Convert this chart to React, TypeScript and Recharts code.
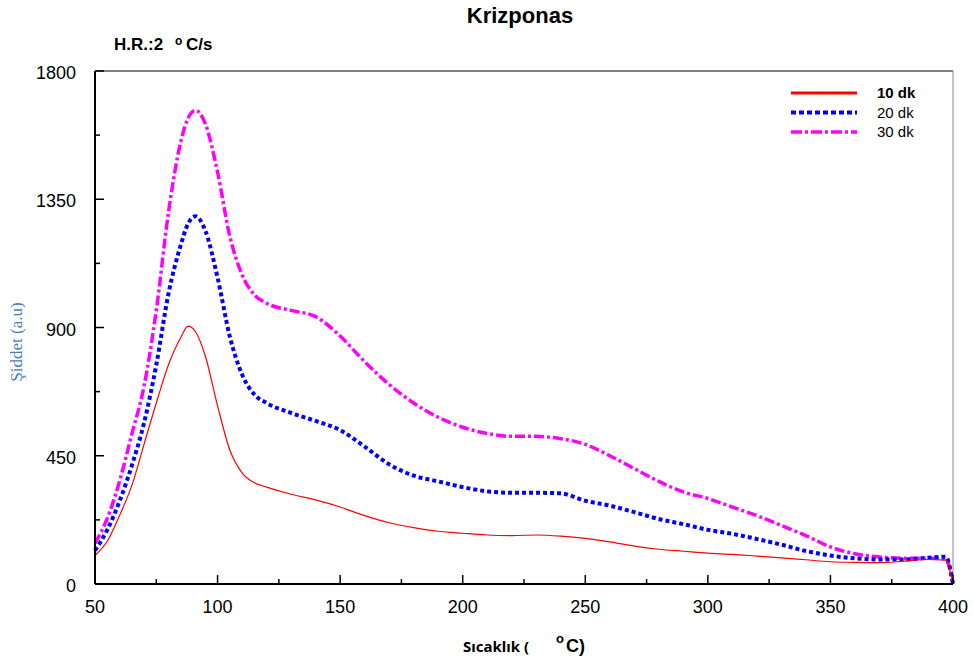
import React from "react";
import { LineChart, Line, XAxis, YAxis, ReferenceLine } from "recharts";

// temperature (°C)
const temps = [
  50, 55, 60, 65, 70, 75, 80, 85, 88, 91, 95, 100, 105, 110, 115, 120, 130, 140, 150, 160,
  170, 180, 190, 200, 210, 220, 230, 240, 250, 260, 270, 280, 290, 300, 310, 320, 330, 340,
  350, 360, 370, 380, 390, 397, 400,
];

const dk10 = [
  100, 150, 240, 345, 490, 635, 770, 865, 905, 885, 800, 625, 470, 390, 355, 340, 315, 295,
  270, 240, 215, 198, 185, 178, 172, 170, 172, 168, 160, 148, 133, 122, 115, 108, 104, 98,
  92, 85, 78, 76, 75, 80, 86, 84, 0,
];

const dk20 = [
  118, 190, 290, 415, 565, 769, 1020, 1190, 1265, 1290, 1240, 1075, 868, 735, 665, 635, 600,
  572, 540, 482, 420, 380, 360, 340, 325, 320, 320, 318, 292, 275, 252, 228, 210, 190, 176,
  158, 138, 116, 100, 90, 86, 86, 92, 96, 0,
];

const dk30 = [
  143, 230, 360, 525, 694, 960, 1306, 1552, 1635, 1662, 1615, 1445, 1220, 1085, 1015, 985,
  960, 938, 870, 780, 700, 635, 585, 550, 528, 518, 518, 510, 490, 450, 405, 360, 323, 300,
  270, 240, 205, 170, 130, 106, 95, 90, 90, 88, 0,
];

const xTicks = [50, 75, 100, 125, 150, 175, 200, 225, 250, 275, 300, 325, 350, 375, 400];
const yTicks = [0, 225, 450, 675, 900, 1125, 1350, 1575, 1800];

const data = temps.map((t, i) => ({ t, d10: dk10[i], d20: dk20[i], d30: dk30[i] }));

const FONT = "'Liberation Sans', Arial, sans-serif";

const XTick = ({ x, y, payload }: any) => {
  const major = (payload.value - 50) % 50 === 0;
  return (
    <g>
      <line x1={x} x2={x} y1={y} y2={y - (major ? 9 : 5)} stroke="#000" strokeWidth={1.5} />
      {major && (
        <text x={x} y={y + 29} textAnchor="middle" fontSize={18} fontFamily={FONT} fill="#000">
          {payload.value}
        </text>
      )}
    </g>
  );
};

const YTick = ({ x, y, payload }: any) => {
  const major = payload.value % 450 === 0;
  return (
    <g>
      <line x1={x} x2={x + (major ? 9 : 5)} y1={y} y2={y} stroke="#000" strokeWidth={1.5} />
      {major && (
        <text x={x - 19} y={y + 8} textAnchor="end" fontSize={18} fontFamily={FONT} fill="#000">
          {payload.value}
        </text>
      )}
    </g>
  );
};

const legendItems = [
  { label: "10 dk", color: "#ff0000", dash: undefined, width: 3, bold: true },
  { label: "20 dk", color: "#0000ff", dash: "5 3", width: 4, bold: false },
  { label: "30 dk", color: "#ff00ff", dash: "11 3 3 3", width: 3.5, bold: false },
];

export default function App() {
  return (
    <div style={{ position: "absolute", left: 0, top: 0, width: 973, height: 664, background: "#fff" }}>
      <LineChart
        width={973}
        height={664}
        data={data}
        margin={{ top: 71, right: 20, left: 35, bottom: 50 }}
      >
        <XAxis
          dataKey="t"
          type="number"
          domain={[50, 400]}
          ticks={xTicks}
          interval={0}
          tickLine={false}
          tickSize={0}
          tickMargin={0}
          height={30}
          axisLine={{ stroke: "#000", strokeWidth: 2 }}
          tick={<XTick />}
        />
        <YAxis
          type="number"
          domain={[0, 1800]}
          ticks={yTicks}
          interval={0}
          tickLine={false}
          tickSize={0}
          tickMargin={0}
          width={60}
          axisLine={{ stroke: "#000", strokeWidth: 2 }}
          tick={<YTick />}
        />
        <ReferenceLine y={1800} stroke="#000" strokeWidth={1} />
        <ReferenceLine x={400} stroke="#888" strokeWidth={1} />
        <Line
          type="monotone"
          dataKey="d30"
          stroke="#ff00ff"
          strokeWidth={3.5}
          strokeDasharray="10 3 3 3"
          dot={false}
          isAnimationActive={false}
        />
        <Line
          type="monotone"
          dataKey="d20"
          stroke="#0000ff"
          strokeWidth={4}
          strokeDasharray="4 3"
          dot={false}
          isAnimationActive={false}
        />
        <Line
          type="monotone"
          dataKey="d10"
          stroke="#ff0000"
          strokeWidth={1.2}
          dot={false}
          isAnimationActive={false}
        />
      </LineChart>

      <svg
        width={973}
        height={664}
        style={{ position: "absolute", left: 0, top: 0, pointerEvents: "none" }}
      >
        <text x={520} y={23} textAnchor="middle" fontSize={22} fontWeight="bold" fontFamily={FONT}>
          Krizponas
        </text>
        <text x={114} y={50} fontSize={17} fontWeight="bold" fontFamily={FONT}>
          H.R.:2
        </text>
        <text x={175} y={45} fontSize={12} fontWeight="bold" fontFamily={FONT}>
          o
        </text>
        <text x={186} y={50} fontSize={17} fontWeight="bold" fontFamily={FONT}>
          C/s
        </text>
        <text
          x={22}
          y={342}
          transform="rotate(-90, 22, 342)"
          textAnchor="middle"
          fontSize={17}
          fill="#4a7ebb"
          fontFamily="'Liberation Serif', 'Times New Roman', serif"
        >
          Şiddet (a.u)
        </text>
        <text x={463} y={652} fontSize={15} fontWeight="bold" fontFamily="'Noto Sans', sans-serif">
          Sıcaklık (
        </text>
        <text x={556} y={643} fontSize={13} fontWeight="bold" fontFamily={FONT}>
          o
        </text>
        <text x={566} y={652} fontSize={18} fontWeight="bold" fontFamily={FONT}>
          C)
        </text>
        {legendItems.map((it, i) => {
          const y = 93 + i * 19.5;
          return (
            <g key={it.label}>
              <line
                x1={791}
                x2={857}
                y1={y}
                y2={y}
                stroke={it.color}
                strokeWidth={it.width}
                strokeDasharray={it.dash}
              />
              <text
                x={877}
                y={y + 5}
                fontSize={15}
                fontWeight={it.bold ? "bold" : "normal"}
                fontFamily={FONT}
              >
                {it.label}
              </text>
            </g>
          );
        })}
      </svg>
    </div>
  );
}
